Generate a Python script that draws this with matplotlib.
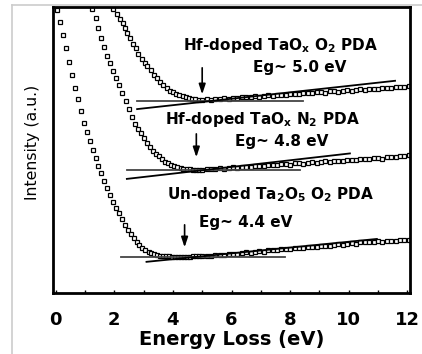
import matplotlib
matplotlib.use("Agg")
import matplotlib.pyplot as plt
from matplotlib.lines import Line2D

plt.rcParams["font.family"] = ["DejaVu Sans"]
plt.rcParams["mathtext.fontset"] = "dejavusans"

# --- data (energy loss in eV, intensity in a.u.) ---
# steep onset part of each spectrum
x_o2 = [1.97, 2.08, 2.19, 2.29, 2.37, 2.44, 2.53, 2.65, 2.74, 2.82, 2.94, 3.05,
        3.13, 3.24, 3.35, 3.45, 3.56, 3.67, 3.79, 3.90, 4.00, 4.11, 4.22, 4.33,
        4.44, 4.55, 4.66, 4.77, 4.88]
y_o2 = [9.93, 9.74, 9.58, 9.45, 9.26, 9.08, 8.91, 8.71, 8.56, 8.35, 8.18, 8.03,
        7.95, 7.80, 7.62, 7.51, 7.39, 7.27, 7.16, 7.06, 7.02, 6.97, 6.93, 6.89,
        6.85, 6.82, 6.79, 6.77, 6.76]

x_n2 = [1.25, 1.36, 1.46, 1.56, 1.65, 1.75, 1.85, 1.96, 2.06, 2.17, 2.28, 2.39,
        2.49, 2.59, 2.70, 2.80, 2.91, 3.01, 3.12, 3.22, 3.32, 3.43, 3.53, 3.63,
        3.74, 3.84, 3.94, 4.05, 4.15, 4.26, 4.36, 4.47, 4.57, 4.68, 4.78, 4.89]
y_n2 = [9.92, 9.60, 9.27, 8.93, 8.60, 8.30, 8.05, 7.77, 7.53, 7.27, 7.00, 6.72,
        6.42, 6.16, 5.90, 5.74, 5.58, 5.43, 5.25, 5.09, 4.97, 4.87, 4.78, 4.67,
        4.59, 4.53, 4.49, 4.45, 4.41, 4.38, 4.35, 4.33, 4.32, 4.31, 4.31, 4.30]

x_un = [0.05, 0.15, 0.25, 0.35, 0.45, 0.55, 0.65, 0.76, 0.86, 0.96, 1.06, 1.16,
        1.26, 1.36, 1.46, 1.56, 1.66, 1.76, 1.86, 1.96, 2.06, 2.16, 2.26, 2.36,
        2.46, 2.56, 2.66, 2.76, 2.86, 2.96, 3.06, 3.17, 3.27, 3.37, 3.47, 3.57,
        3.67, 3.78, 3.88, 3.98, 4.08, 4.18, 4.29, 4.39, 4.49, 4.59, 4.69, 4.80,
        4.90]
y_un = [9.90, 9.47, 9.01, 8.55, 8.08, 7.63, 7.18, 6.77, 6.37, 5.95, 5.62, 5.30,
        5.00, 4.72, 4.45, 4.18, 3.92, 3.66, 3.42, 3.19, 2.98, 2.78, 2.58, 2.39,
        2.22, 2.07, 1.93, 1.80, 1.68, 1.58, 1.50, 1.44, 1.39, 1.35, 1.32, 1.30,
        1.29, 1.28, 1.28, 1.27, 1.27, 1.27, 1.27, 1.27, 1.27, 1.27, 1.28, 1.28,
        1.28]

# slowly rising part above the gap
x_flat = [5.00, 5.15, 5.30, 5.45, 5.60, 5.75, 5.90, 6.05, 6.20, 6.35, 6.50, 6.65,
          6.80, 6.95, 7.10, 7.25, 7.40, 7.55, 7.70, 7.85, 8.00, 8.15, 8.30, 8.45,
          8.60, 8.75, 8.90, 9.05, 9.20, 9.35, 9.50, 9.65, 9.80, 9.95, 10.10, 10.25,
          10.40, 10.55, 10.70, 10.85, 11.00, 11.15, 11.30, 11.45, 11.60, 11.75,
          11.90, 12.05]
y_o2_flat = [6.75, 6.77, 6.76, 6.79, 6.78, 6.81, 6.80, 6.83, 6.82, 6.85, 6.84, 6.87,
             6.88, 6.86, 6.90, 6.91, 6.89, 6.93, 6.94, 6.92, 6.96, 6.97, 6.95, 6.99,
             7.00, 6.98, 7.02, 7.03, 7.01, 7.05, 7.06, 7.04, 7.08, 7.09, 7.07, 7.11,
             7.12, 7.10, 7.14, 7.15, 7.13, 7.17, 7.18, 7.16, 7.20, 7.21, 7.22, 7.25]
y_n2_flat = [4.31, 4.33, 4.32, 4.35, 4.36, 4.34, 4.38, 4.39, 4.37, 4.41, 4.42, 4.40,
             4.44, 4.45, 4.43, 4.47, 4.48, 4.46, 4.50, 4.51, 4.49, 4.53, 4.54, 4.52,
             4.56, 4.57, 4.55, 4.59, 4.60, 4.58, 4.62, 4.63, 4.61, 4.65, 4.66, 4.64,
             4.68, 4.69, 4.67, 4.71, 4.72, 4.70, 4.74, 4.75, 4.76, 4.78, 4.80, 4.83]
y_un_flat = [1.28, 1.30, 1.29, 1.33, 1.34, 1.33, 1.37, 1.38, 1.37, 1.41, 1.42, 1.41,
             1.45, 1.46, 1.45, 1.49, 1.50, 1.49, 1.53, 1.54, 1.53, 1.57, 1.58, 1.57,
             1.61, 1.62, 1.61, 1.65, 1.66, 1.65, 1.69, 1.70, 1.69, 1.73, 1.74, 1.73,
             1.77, 1.78, 1.77, 1.80, 1.81, 1.80, 1.82, 1.83, 1.82, 1.84, 1.85, 1.86]

# fitted lines: (x0, x1), (y0, y1)
flat_lines = [((2.78, 8.44), (6.71, 6.71)),
              ((2.43, 8.34), (4.30, 4.30)),
              ((2.23, 7.82), (1.27, 1.27))]
slope_lines = [((2.78, 11.58), (6.43, 7.42)),
               ((2.43, 10.04), (3.99, 4.88)),
               ((3.10, 10.96), (1.09, 1.89))]

# band gap arrows: x, y_start, y_end
gaps = [(5.0, 7.97, 6.85), (4.8, 5.66, 4.65), (4.4, 2.48, 1.50)]

labels = [r"Hf-doped TaO$_\mathbf{x}$ O$_\mathbf{2}$ PDA",
          r"Hf-doped TaO$_\mathbf{x}$ N$_\mathbf{2}$ PDA",
          r"Un-doped Ta$_\mathbf{2}$O$_\mathbf{5}$ O$_\mathbf{2}$ PDA"]
label_pos = [(7.66, 8.64), (7.04, 6.05), (7.35, 3.43)]
eg_labels = ["Eg~ 5.0 eV", "Eg~ 4.8 eV", "Eg~ 4.4 eV"]
eg_pos = [(8.33, 7.90), (7.72, 5.30), (6.49, 2.47)]

xtick_vals = list(range(13))
xtick_text = ["0", "", "2", "", "4", "", "6", "", "8", "", "10", "", "12"]

# --- figure ---
fig = plt.figure(figsize=(4.22, 3.54), dpi=100)
ax = fig.add_axes([53 / 422, 61 / 354, 357 / 422, 286 / 354])

mk = dict(ls="none", marker="s", ms=3.2, mfc="white", mec="black", mew=0.9)
for xs, ys, yf in [(x_o2, y_o2, y_o2_flat), (x_n2, y_n2, y_n2_flat), (x_un, y_un, y_un_flat)]:
    ax.plot(xs + x_flat, ys + yf, **mk)

for xx, yy in flat_lines:
    ax.plot(xx, yy, color="#444444", lw=1.3, zorder=4)
for xx, yy in slope_lines:
    ax.plot(xx, yy, color="black", lw=1.3, zorder=4)

for gx, y0, y1 in gaps:
    ax.annotate("", xy=(gx, y1), xytext=(gx, y0),
                arrowprops=dict(arrowstyle="-|>,head_length=0.6,head_width=0.2",
                                color="black", lw=1.2, mutation_scale=10))

for txt, (tx, ty) in zip(labels, label_pos):
    ax.text(tx, ty, txt, ha="center", va="center", fontsize=11, fontweight="bold")
for txt, (tx, ty) in zip(eg_labels, eg_pos):
    ax.text(tx, ty, txt, ha="center", va="center", fontsize=11, fontweight="bold")

ax.set_xlim(-0.09, 12.09)
ax.set_ylim(0, 10)
ax.set_xticks(xtick_vals)
ax.set_xticklabels(xtick_text, fontsize=13, fontweight="bold")
ax.set_yticks([])
ax.tick_params(axis="x", direction="in", length=2.5, width=1, pad=13)
for s in ax.spines.values():
    s.set_linewidth(2)

ax.set_xlabel("Energy Loss (eV)", fontsize=14, fontweight="bold", labelpad=1)
ax.set_ylabel("Intensity (a.u.)", fontsize=11.3)
ax.yaxis.set_label_coords(-0.036, 0.528)

# light frame around the figure panel
fig.add_artist(Line2D([12 / 422, 12 / 422], [0, 349 / 354], transform=fig.transFigure,
                      color="#cccccc", lw=1.2))
fig.add_artist(Line2D([12 / 422, 1], [349 / 354, 349 / 354], transform=fig.transFigure,
                      color="#cccccc", lw=1.2))

fig.savefig("out.png", dpi=100)
